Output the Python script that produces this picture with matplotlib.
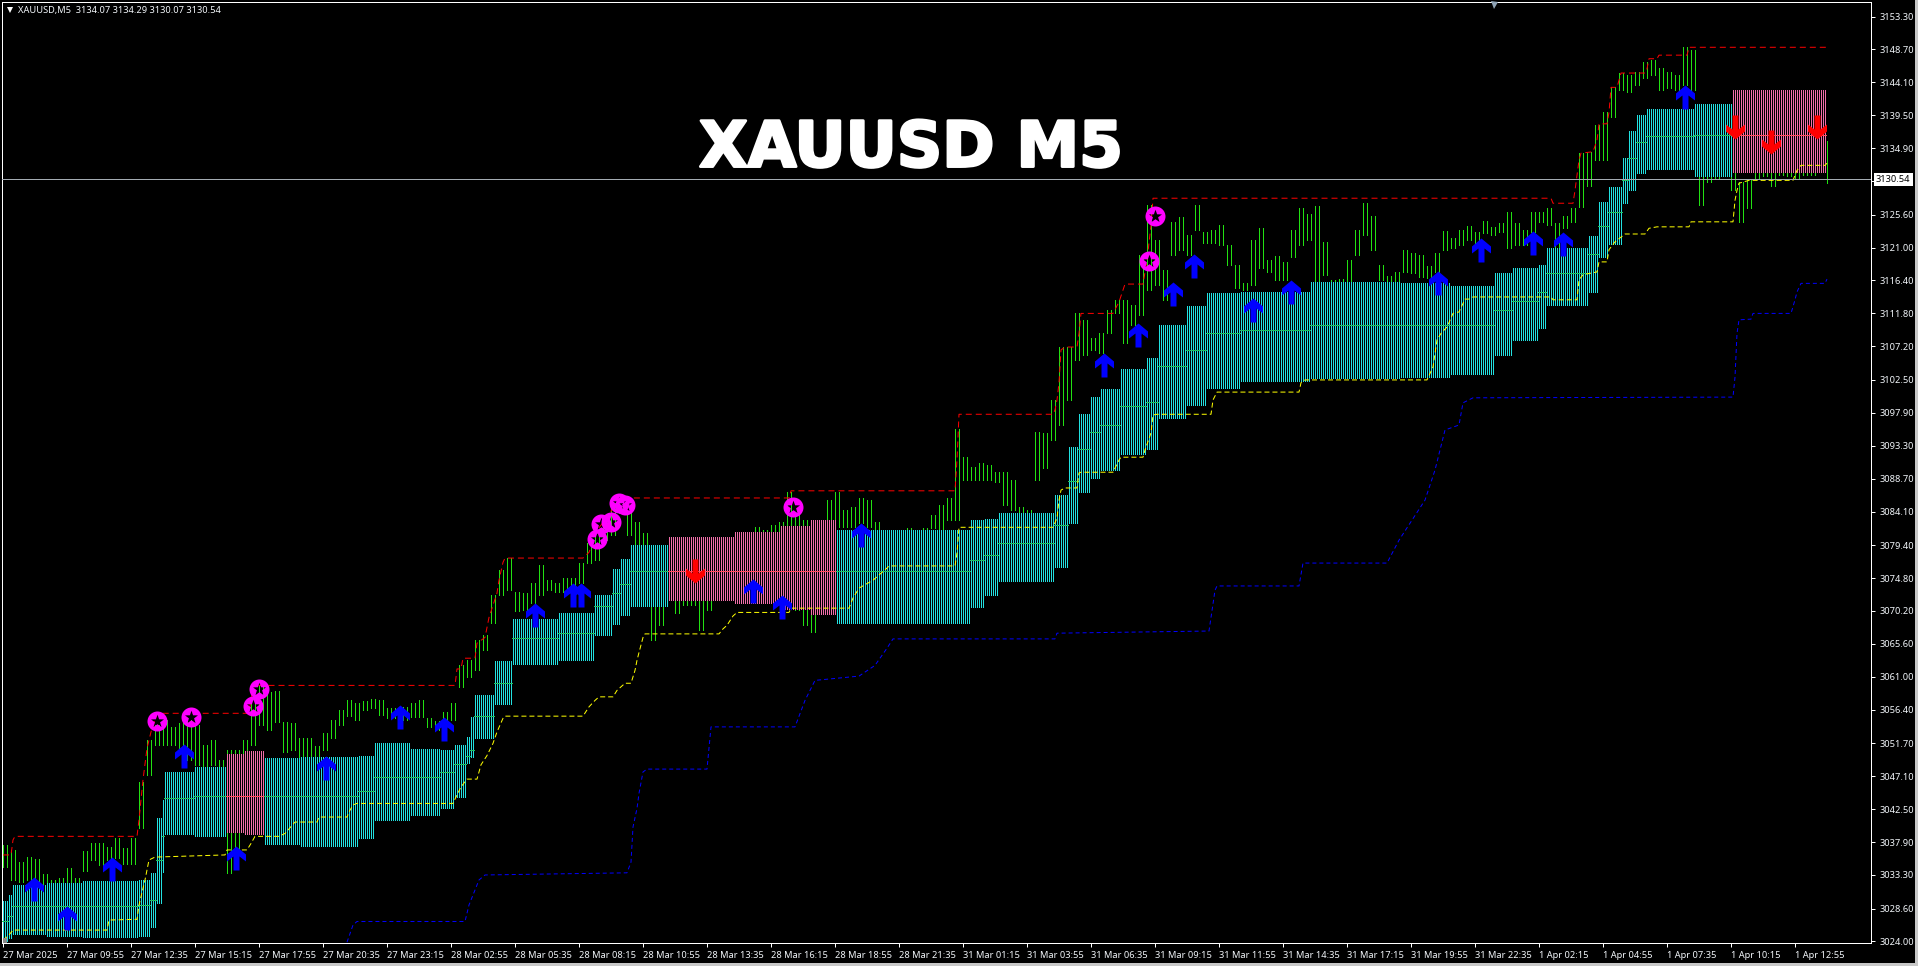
import matplotlib
matplotlib.use("Agg")
import matplotlib.pyplot as plt
import matplotlib.patheffects as pe
import numpy as np
from matplotlib.path import Path
from matplotlib.patches import Rectangle

# time axis labels, one every 32 bars
time_labels = ["27 Mar 2025", "27 Mar 09:55", "27 Mar 12:35", "27 Mar 15:15", "27 Mar 17:55",
               "27 Mar 20:35", "27 Mar 23:15", "28 Mar 02:55", "28 Mar 05:35", "28 Mar 08:15",
               "28 Mar 10:55", "28 Mar 13:35", "28 Mar 16:15", "28 Mar 18:55", "28 Mar 21:35",
               "31 Mar 01:15", "31 Mar 03:55", "31 Mar 06:35", "31 Mar 09:15", "31 Mar 11:55",
               "31 Mar 14:35", "31 Mar 17:15", "31 Mar 19:55", "31 Mar 22:35", "1 Apr 02:15",
               "1 Apr 04:55", "1 Apr 07:35", "1 Apr 10:15", "1 Apr 12:55"]
price_ticks = [3153.30, 3148.70, 3144.10, 3139.50, 3134.90, 3130.30, 3125.60, 3121.00, 3116.40,
               3111.80, 3107.20, 3102.50, 3097.90, 3093.30, 3088.70, 3084.10, 3079.40, 3074.80,
               3070.20, 3065.60, 3061.00, 3056.40, 3051.70, 3047.10, 3042.50, 3037.90, 3033.30,
               3028.60, 3024.00]
last_price = 3130.54
n_bars = 914

# price range of each 4-bar block
block_high = [3037.5, 3036.8, 3035.1, 3035.8, 3035.5, 3033.4, 3032.6, 3032.9, 3034.3, 3032.9,
              3036.6, 3037.7, 3037.7, 3037.2, 3038.4, 3037.0, 3038.4, 3046.3, 3052.2, 3054.2,
              3054.9, 3054.0, 3054.5, 3054.9, 3054.2, 3051.4, 3052.2, 3049.4, 3050.8, 3050.8,
              3052.2, 3057.7, 3059.8, 3058.9, 3059.0, 3054.7, 3054.5, 3052.4, 3052.4, 3051.3,
              3053.1, 3054.9, 3056.3, 3057.7, 3057.3, 3057.6, 3057.9, 3057.7, 3056.6, 3056.6,
              3056.8, 3057.3, 3057.7, 3055.2, 3054.8, 3056.1, 3057.3, 3062.6, 3063.3, 3066.1,
              3066.8, 3072.4, 3075.9, 3077.6, 3072.8, 3072.7, 3074.1, 3076.6, 3074.5, 3074.1,
              3074.8, 3074.8, 3076.9, 3079.7, 3080.8, 3082.9, 3085.3, 3085.7, 3083.9, 3082.6,
              3081.1, 3079.4, 3078.7, 3074.5, 3073.1, 3073.1, 3073.1, 3073.1, 3073.1, 3077.3,
              3077.3, 3078.7, 3078.7, 3080.1, 3081.9, 3081.5, 3082.2, 3082.6, 3086.8, 3084.0,
              3082.9, 3082.9, 3082.9, 3085.7, 3086.8, 3084.3, 3084.7, 3086.0, 3085.7, 3082.6,
              3081.5, 3081.5, 3081.5, 3081.8, 3081.5, 3081.8, 3083.6, 3085.0, 3086.0, 3095.6,
              3091.7, 3090.3, 3090.9, 3090.6, 3089.6, 3089.6, 3088.5, 3084.7, 3084.3, 3095.2,
              3095.1, 3099.7, 3107.1, 3107.1, 3111.9, 3110.9, 3108.3, 3109.0, 3112.3, 3113.7,
              3113.7, 3113.0, 3119.9, 3126.9, 3122.0, 3117.8, 3124.6, 3125.3, 3122.7, 3126.9,
              3123.2, 3123.4, 3124.1, 3121.4, 3118.6, 3116.0, 3122.0, 3123.7, 3119.3, 3119.8,
              3119.0, 3123.4, 3126.5, 3125.7, 3126.8, 3121.8, 3116.5, 3116.6, 3119.3, 3123.4,
              3127.2, 3125.4, 3118.6, 3117.0, 3117.6, 3120.7, 3120.2, 3119.9, 3118.4, 3120.2,
              3123.3, 3122.3, 3123.4, 3124.0, 3123.2, 3124.7, 3123.9, 3124.4, 3126.0, 3124.4,
              3123.4, 3126.0, 3126.0, 3126.5, 3124.4, 3125.4, 3126.5, 3134.2, 3134.4, 3138.1,
              3139.9, 3143.4, 3145.4, 3145.1, 3145.5, 3146.9, 3147.2, 3146.1, 3145.5, 3145.1,
              3149.0, 3148.6, 3132.5, 3131.8, 3131.8, 3136.0, 3136.7, 3130.2, 3130.4, 3131.8,
              3131.8, 3131.8, 3131.8, 3131.8, 3131.8, 3132.1, 3132.1, 3132.1, 3135.9]
block_low = [3034.4, 3032.6, 3032.3, 3032.6, 3032.2, 3031.9, 3031.9, 3031.9, 3032.3, 3032.3,
             3033.9, 3035.4, 3034.7, 3035.4, 3035.7, 3034.9, 3034.9, 3039.8, 3047.3, 3051.4,
             3051.4, 3051.4, 3051.0, 3049.4, 3048.7, 3048.5, 3048.7, 3039.6, 3033.6, 3036.8,
             3049.4, 3051.4, 3054.2, 3053.5, 3054.7, 3050.5, 3050.8, 3049.8, 3049.8, 3049.8,
             3050.8, 3052.4, 3054.2, 3055.5, 3054.9, 3056.3, 3056.6, 3055.6, 3055.2, 3055.2,
             3054.9, 3055.4, 3055.4, 3054.0, 3053.5, 3054.2, 3054.9, 3059.6, 3061.0, 3061.9,
             3064.7, 3068.5, 3072.4, 3073.1, 3070.2, 3070.3, 3071.3, 3072.4, 3073.1, 3072.8,
             3072.8, 3073.1, 3074.1, 3076.9, 3077.3, 3080.1, 3080.8, 3083.9, 3080.8, 3079.4,
             3079.3, 3066.1, 3068.2, 3071.7, 3069.9, 3071.0, 3071.0, 3067.5, 3070.3, 3071.7,
             3073.1, 3073.1, 3072.8, 3072.4, 3072.4, 3071.7, 3071.7, 3071.7, 3082.2, 3070.3,
             3068.2, 3067.2, 3070.0, 3082.9, 3081.9, 3081.9, 3081.9, 3082.5, 3081.9, 3080.1,
             3080.1, 3080.1, 3080.1, 3080.8, 3080.8, 3080.8, 3081.8, 3081.5, 3082.9, 3082.9,
             3088.5, 3088.5, 3088.5, 3088.5, 3088.2, 3085.0, 3084.3, 3083.6, 3083.6, 3088.5,
             3090.2, 3094.1, 3096.2, 3099.7, 3105.3, 3106.0, 3106.7, 3106.3, 3109.0, 3111.9,
             3107.6, 3110.2, 3111.6, 3115.1, 3115.8, 3113.7, 3120.0, 3120.7, 3119.9, 3123.4,
             3121.6, 3121.6, 3121.4, 3118.6, 3115.3, 3115.1, 3115.8, 3118.1, 3117.6, 3116.5,
             3116.5, 3119.7, 3121.3, 3122.0, 3116.0, 3117.2, 3115.8, 3116.0, 3116.2, 3119.9,
             3122.7, 3120.7, 3116.5, 3115.8, 3115.8, 3117.6, 3117.4, 3116.9, 3116.7, 3117.6,
             3120.7, 3120.9, 3121.4, 3122.0, 3121.4, 3123.0, 3122.7, 3123.2, 3120.9, 3121.4,
             3121.4, 3123.2, 3124.6, 3124.1, 3120.9, 3123.7, 3124.6, 3126.7, 3129.6, 3133.2,
             3133.2, 3139.2, 3143.0, 3142.7, 3143.7, 3144.7, 3145.1, 3143.0, 3143.3, 3143.0,
             3143.7, 3143.0, 3126.9, 3130.2, 3130.7, 3131.1, 3129.0, 3124.6, 3126.5, 3130.7,
             3131.0, 3129.6, 3131.1, 3131.0, 3130.7, 3131.1, 3131.1, 3131.6, 3130.0]

# band: one entry per run of bars (1 = bullish cyan, 0 = bearish pink)
band_run = [3, 2, 17, 18, 28, 6, 3, 3, 1, 15, 16, 9, 10, 18, 29, 8, 18, 15, 7, 6, 2, 2, 10, 9, 23,
            18, 9, 4, 5, 19, 33, 23, 15, 13, 67, 7, 7, 28, 7, 5, 6, 5, 10, 13, 6, 14, 10, 17, 35,
            45, 25, 22, 9, 13, 4, 21, 5, 5, 7, 3, 4, 5, 24, 19, 47]
band_kind = [1] * 11 + [0, 0] + [1] * 17 + [0, 0, 0, 0] + [1] * 30 + [0]
band_top = [3029.6, 3030.5, 3031.9, 3032.2, 3032.4, 3032.6, 3033.6, 3041.2, 3043.8, 3047.7, 3048.4,
            3050.2, 3050.6, 3049.6, 3049.8, 3049.9, 3051.7, 3050.9, 3050.7, 3051.4, 3052.6, 3055.4,
            3058.4, 3063.2, 3069.1, 3069.9, 3072.4, 3076.1, 3077.5, 3079.4, 3080.5, 3081.2, 3082.1,
            3082.9, 3081.5, 3082.9, 3083.0, 3083.9, 3086.4, 3093.1, 3097.7, 3100.1, 3101.2, 3104.0,
            3105.6, 3110.2, 3112.8, 3114.6, 3114.8, 3116.2, 3116.0, 3115.6, 3117.4, 3118.1, 3118.6,
            3120.9, 3122.6, 3127.4, 3129.5, 3133.5, 3137.3, 3139.5, 3140.4, 3141.1, 3143.0]
band_bot = [3024.0, 3024.5, 3025.0, 3024.7, 3024.6, 3024.7, 3026.0, 3029.4, 3033.7, 3039.0, 3038.7,
            3039.3, 3039.0, 3037.6, 3037.3, 3038.4, 3041.0, 3041.7, 3042.6, 3044.2, 3048.9, 3049.8,
            3052.4, 3057.2, 3062.8, 3063.3, 3066.8, 3068.4, 3069.6, 3070.9, 3071.7, 3071.3, 3070.5,
            3069.8, 3068.5, 3070.7, 3072.4, 3074.4, 3076.3, 3082.5, 3086.8, 3088.8, 3089.9, 3092.1,
            3092.9, 3097.2, 3099.0, 3101.4, 3102.3, 3102.8, 3102.9, 3103.3, 3106.0, 3108.1, 3109.7,
            3113.0, 3114.8, 3119.7, 3121.5, 3127.2, 3129.0, 3131.4, 3132.0, 3131.0, 3131.6]
band_mid = [3026.8, 3027.5, 3028.9, 3028.9, 3028.9, 3029.1, 3029.8, 3035.4, 3038.7, 3044.0, 3044.3,
            3044.3, 3044.3, 3044.3, 3044.3, 3045.0, 3047.0, 3047.0, 3047.7, 3048.8, 3050.0, 3050.7,
            3055.5, 3060.1, 3066.4, 3067.1, 3070.9, 3072.7, 3074.0, 3075.8, 3075.8, 3075.8, 3075.8,
            3075.8, 3075.8, 3077.3, 3078.0, 3079.7, 3082.2, 3088.4, 3092.8, 3095.2, 3096.2, 3098.8,
            3099.4, 3104.4, 3106.7, 3109.0, 3109.5, 3110.2, 3110.2, 3110.2, 3112.3, 3113.5, 3114.8,
            3117.4, 3120.1, 3124.0, 3126.0, 3130.4, 3133.5, 3135.7, 3136.6, 3136.7, 3136.7]

# channel lines: (bar, price) at each change
upper_bar = [0, 4, 5, 6, 67, 68, 70, 72, 74, 77, 123, 125, 226, 227, 229, 230, 236, 237, 241, 243,
             247, 248, 250, 251, 290, 293, 297, 301, 306, 309, 393, 394, 476, 477, 478, 525, 526,
             527, 528, 529, 531, 537, 538, 539, 555, 558, 561, 570, 572, 574, 575, 774, 775, 785,
             786, 788, 789, 795, 797, 798, 802, 803, 804, 807, 808, 809, 821, 822, 823, 827, 828,
             842, 843, 912]
upper_price = [3036.1, 3036.1, 3038.2, 3038.7, 3038.7, 3041.0, 3046.6, 3051.0, 3053.3, 3055.9,
               3055.9, 3059.8, 3059.8, 3062.1, 3062.1, 3063.6, 3063.6, 3065.7, 3066.5, 3069.3,
               3072.7, 3074.5, 3077.0, 3077.6, 3077.6, 3078.4, 3081.5, 3082.9, 3085.0, 3086.0,
               3086.0, 3087.0, 3087.0, 3091.3, 3097.7, 3097.7, 3098.3, 3099.7, 3102.1, 3106.7,
               3107.1, 3107.1, 3109.0, 3111.8, 3111.8, 3113.4, 3115.9, 3115.9, 3119.2, 3124.1,
               3127.9, 3127.9, 3127.2, 3127.2, 3129.0, 3133.2, 3134.2, 3134.4, 3136.0, 3138.3,
               3138.3, 3139.9, 3143.4, 3143.4, 3144.4, 3145.4, 3145.4, 3146.0, 3147.4, 3147.4,
               3147.9, 3147.9, 3149.0, 3149.0]
yellow_bar = [0, 3, 5, 52, 53, 67, 68, 71, 73, 76, 111, 112, 122, 124, 126, 138, 141, 146, 157, 158,
              172, 173, 175, 177, 225, 227, 229, 232, 237, 239, 242, 245, 247, 250, 251, 290, 293,
              296, 298, 305, 307, 311, 314, 316, 317, 318, 320, 321, 358, 360, 362, 365, 367, 393,
              394, 423, 425, 428, 435, 442, 443, 476, 477, 478, 525, 527, 528, 529, 531, 537, 538,
              539, 555, 558, 559, 570, 571, 574, 575, 577, 604, 605, 607, 648, 649, 651, 712, 715,
              717, 719, 722, 725, 728, 731, 733, 735, 774, 775, 787, 788, 790, 797, 798, 802, 803,
              806, 811, 821, 823, 827, 843, 844, 865, 866, 867, 868, 873, 895, 897, 899, 911, 912]
yellow_price = [3024.2, 3024.9, 3025.6, 3025.6, 3027.0, 3027.1, 3029.1, 3032.6, 3035.4, 3035.8,
                3036.1, 3036.8, 3036.8, 3037.7, 3038.7, 3038.7, 3039.1, 3040.7, 3040.7, 3041.4,
                3041.4, 3042.1, 3043.1, 3043.3, 3043.3, 3044.5, 3045.6, 3046.7, 3046.7, 3048.7,
                3050.0, 3051.7, 3053.3, 3055.2, 3055.5, 3055.5, 3056.8, 3057.7, 3058.2, 3058.2,
                3059.1, 3060.1, 3060.1, 3061.9, 3063.3, 3064.4, 3066.5, 3067.0, 3067.0, 3067.7,
                3068.2, 3069.5, 3070.0, 3070.0, 3070.6, 3070.6, 3072.0, 3073.4, 3074.5, 3076.2,
                3076.5, 3076.5, 3078.3, 3081.9, 3081.9, 3083.2, 3085.7, 3087.1, 3087.4, 3087.4,
                3089.5, 3089.6, 3089.6, 3091.3, 3091.7, 3091.7, 3092.7, 3095.1, 3097.6, 3097.7,
                3097.7, 3099.7, 3100.8, 3100.8, 3102.1, 3102.5, 3102.5, 3104.3, 3108.1, 3109.0,
                3109.9, 3111.8, 3112.0, 3113.8, 3113.8, 3114.1, 3114.1, 3113.7, 3113.7, 3116.5,
                3117.2, 3117.6, 3119.0, 3119.0, 3120.7, 3121.8, 3122.9, 3122.9, 3123.7, 3123.9,
                3123.9, 3124.6, 3124.6, 3127.6, 3129.0, 3130.0, 3130.4, 3130.4, 3131.8, 3132.5,
                3132.5, 3132.8]
lower_bar = [172, 175, 177, 231, 233, 238, 241, 312, 314, 315, 317, 318, 320, 322, 352, 354, 396,
             401, 406, 428, 436, 442, 445, 526, 527, 603, 604, 606, 607, 648, 650, 692, 698, 711,
             716, 721, 728, 730, 735, 865, 866, 867, 868, 874, 875, 894, 896, 897, 899, 911, 912]
lower_price = [3023.9, 3026.3, 3026.8, 3026.8, 3029.1, 3032.6, 3033.3, 3033.6, 3035.1, 3040.0,
               3042.6, 3044.7, 3047.7, 3048.1, 3048.1, 3054.0, 3054.0, 3057.7, 3060.5, 3061.1,
               3062.6, 3065.0, 3066.3, 3066.3, 3067.1, 3067.4, 3069.3, 3073.1, 3073.7, 3073.7,
               3076.9, 3076.9, 3080.1, 3085.7, 3089.9, 3095.5, 3096.2, 3099.3, 3100.0, 3100.1,
               3102.9, 3109.0, 3110.9, 3111.0, 3111.8, 3111.8, 3113.7, 3114.8, 3116.0, 3116.0,
               3116.6]

# signals
up_bar = [15.5, 32, 54.5, 90.5, 116.5, 161.5, 198.5, 220.5, 266, 285, 289, 375, 389.5, 429, 550.5,
          567.5, 585, 595.5, 625, 644, 717.5, 739, 765, 780, 841]
up_price = [3031.3, 3027.3, 3034.1, 3049.9, 3035.7, 3048.2, 3055.4, 3053.7, 3069.6, 3072.4, 3072.4,
            3073.0, 3070.7, 3080.8, 3104.6, 3108.8, 3114.5, 3118.4, 3112.3, 3114.8, 3116.0, 3120.6,
            3121.6, 3121.5, 3142.0]
down_bar = [346, 866, 884, 907]
down_price = [3075.8, 3137.8, 3135.7, 3137.8]
star_bar = [77, 94, 125, 128, 297, 299, 304, 308, 311, 395, 576, 573]
star_price = [3054.8, 3055.4, 3056.9, 3059.3, 3080.2, 3082.3, 3082.6, 3085.3, 3085.0, 3084.7,
              3125.4, 3119.1]

W, H = 1918, 966
fig = plt.figure(figsize=(W / 100, H / 100), dpi=100, facecolor="black")
# chart frame sits at x 2..1871, y 2..943 in picture pixels
ax = fig.add_axes([2 / W, (H - 943) / H, 1869 / W, 941 / H], facecolor="black")
ax.set_xlim(-0.5, 934)
ax.set_ylim(3023.79, 3155.33)

font = "Noto Sans"
px = 0.72  # one pixel in points

# candles, behind the band; two lines per block keeps them from merging into slabs
bars = np.arange(n_bars)[::2]
ax.vlines(bars, np.repeat(block_low, 4)[:n_bars][::2], np.repeat(block_high, 4)[:n_bars][::2],
          color="#22e012", lw=px, antialiased=False, zorder=2)

# band columns
starts = np.concatenate([[0], np.cumsum(band_run)[:-1]])
for s, n, k, top, bot, mid in zip(starts, band_run, band_kind, band_top, band_bot, band_mid):
    b = np.arange(s, s + n)
    ax.vlines(b, bot, top, color="#22e0e0" if k else "#f06eaa", lw=px, antialiased=False, zorder=3)
    ax.hlines(mid, s - 0.5, s + n - 0.5, color="#1fc060" if k else "#ff4f5f", lw=px,
              antialiased=False, zorder=4)

ax.plot(upper_bar, upper_price, color="#ff0000", lw=px, ls=(0, (6, 4)), zorder=5)
ax.plot(yellow_bar, yellow_price, color="#ffff00", lw=px, ls=(0, (5, 3)), zorder=5)
ax.plot(lower_bar, lower_price, color="#0000ff", lw=px, ls=(0, (4, 3)), zorder=5)

# wingdings style arrows
up_marker = Path([(0, 12), (9.5, 4), (9.5, -3), (3, 2), (3, -12), (-3, -12), (-3, 2),
                  (-9.5, -3), (-9.5, 4), (0, 12)], closed=True)
down_marker = Path(up_marker.vertices * [1, -1], closed=True)
ax.plot(up_bar, up_price, ls="none", marker=up_marker, ms=24 * px, mfc="#0000ff", mew=0, zorder=6)
ax.plot(down_bar, down_price, ls="none", marker=down_marker, ms=24 * px, mfc="#ff0000", mew=0, zorder=6)

# magenta disc with a star shaped hole, candles show through
star = Path.unit_regular_star(5, 0.4)
hole = Path(star.vertices[::-1] * 0.68, closed=True)
star_marker = Path.make_compound_path(Path.unit_circle(), hole)
ax.plot(star_bar, star_price, ls="none", marker=star_marker, ms=20 * px, mfc="#ff00ff", mew=0, zorder=7)

ax.axhline(last_price, color="#a4abb2", lw=px, zorder=8)
ax.text(454, 3134.7, "XAUUSD M5", color="white", fontsize=63 * px, fontweight="bold",
        family="DejaVu Sans", ha="center", va="center", zorder=9,
        path_effects=[pe.withStroke(linewidth=2.0, foreground="white")])

# axes furniture
for spine in ax.spines.values():
    spine.set_color("white")
    spine.set_linewidth(px)
ax.yaxis.tick_right()
ax.set_yticks(price_ticks)
ax.set_yticklabels(["" if t == 3130.30 else f"{t:.2f}" for t in price_ticks])
ax.set_xticks(np.arange(len(time_labels)) * 32)
ax.set_xticklabels(time_labels, ha="left")
ax.tick_params(axis="y", colors="white", length=4 * px, width=px, pad=3, labelsize=9.3 * px)
ax.tick_params(axis="x", colors="white", length=4 * px, width=px, pad=3, labelsize=9.3 * px)
for label in ax.get_xticklabels() + ax.get_yticklabels():
    label.set_family(font)
    label.set_color("#f2f6fa")

# last price tag on the scale
ax.annotate(f"{last_price:.2f}", xy=(1, last_price), xycoords=("axes fraction", "data"),
            xytext=(5 * px, 0), textcoords="offset points", va="center", ha="left",
            color="black", fontsize=9.3 * px, family=font, annotation_clip=False, zorder=20,
            bbox=dict(boxstyle="square,pad=0.25", fc="white", ec="none"))

# header and small window marks
fig.text(18 / W, 1 - 10.5 / H, "XAUUSD,M5  3134.07 3134.29 3130.07 3130.54", color="#f2f6fa",
         fontsize=9.3 * px, family=font, va="center", ha="left")
fig.add_artist(plt.Line2D([9.5 / W], [1 - 10 / H], marker="v", ms=6 * px, mfc="white", mew=0, ls="none"))
fig.add_artist(plt.Line2D([1494 / W], [1 - 5 / H], marker="v", ms=7 * px, mfc="#8fa3b5", mew=0, ls="none"))
fig.add_artist(Rectangle((3 / W, (H - 943) / H), 4 / W, 5 / H, transform=fig.transFigure, fc="#8a8a8a", ec="none"))
fig.add_artist(Rectangle((1915 / W, 0), 3 / W, 1, transform=fig.transFigure, fc="#c8c8c8", ec="none"))
fig.add_artist(Rectangle((0, 0), 1, 3 / H, transform=fig.transFigure, fc="#c8c8c8", ec="none"))

fig.savefig("out.png", dpi=100, facecolor="black")
